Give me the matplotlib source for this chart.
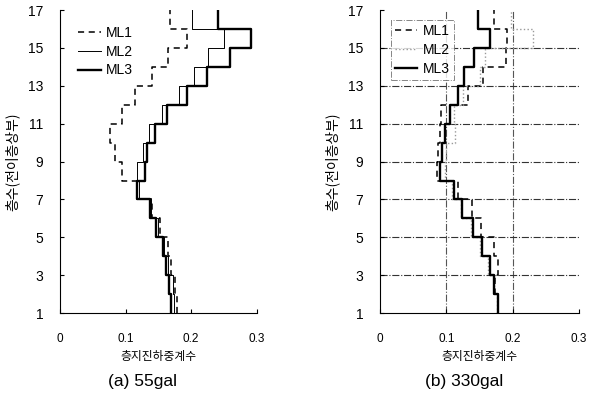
import numpy as np
import matplotlib
matplotlib.use("Agg")
import matplotlib.pyplot as plt

plt.rcParams['font.family'] = ['Liberation Sans', 'Noto Sans CJK KR', 'DejaVu Sans']

# story levels 1..17, values per story (bottom -> top)
levels = np.arange(1, 18)
yticks = [1, 3, 5, 7, 9, 11, 13, 15, 17]
xticks = [0, 0.1, 0.2, 0.3]
xticklabels = ["0", "0.1", "0.2", "0.3"]

a_ml1 = [0.179, 0.175, 0.170, 0.165, 0.152, 0.140, 0.117, 0.095, 0.084, 0.076, 0.094, 0.114, 0.140, 0.165, 0.194, 0.168]
a_ml2 = [0.174, 0.172, 0.165, 0.159, 0.149, 0.139, 0.120, 0.117, 0.127, 0.135, 0.155, 0.182, 0.205, 0.226, 0.250, 0.202]
a_ml3 = [0.170, 0.167, 0.162, 0.157, 0.147, 0.137, 0.117, 0.129, 0.132, 0.145, 0.163, 0.193, 0.224, 0.259, 0.292, 0.241]

b_ml1 = [0.177, 0.173, 0.178, 0.171, 0.152, 0.139, 0.118, 0.086, 0.087, 0.090, 0.092, 0.133, 0.155, 0.190, 0.192, 0.171]
b_ml2 = [0.176, 0.171, 0.163, 0.150, 0.137, 0.122, 0.108, 0.098, 0.100, 0.113, 0.112, 0.125, 0.150, 0.158, 0.230, 0.198]
b_ml3 = [0.177, 0.172, 0.166, 0.153, 0.140, 0.124, 0.111, 0.091, 0.094, 0.098, 0.106, 0.118, 0.127, 0.142, 0.166, 0.148]

ylabel = "층수(전이층상부)"
xlabel = "층지진하중계수"
captions = ["(a) 55gal", "(b) 330gal"]
kfont = ['Noto Sans CJK KR', 'DejaVu Sans']


def story_line(ax, vals, **kw):
    x = np.repeat(vals, 2)
    y = np.repeat(levels, 2)[1:-1]
    return ax.plot(x, y, **kw)[0]


fig = plt.figure(figsize=(5.98, 4.05), dpi=100)
ax1 = fig.add_axes([0.1003, 0.227, 0.329, 0.748])
ax2 = fig.add_axes([0.6355, 0.227, 0.333, 0.748])

# (a)
story_line(ax1, a_ml1, color='black', lw=1.1, ls=(0, (4, 3)), label='ML1')
story_line(ax1, a_ml2, color='black', lw=0.7, label='ML2')
story_line(ax1, a_ml3, color='black', lw=1.7, label='ML3')
ax1.legend(loc='upper left', bbox_to_anchor=(0.03, 0.99), frameon=False,
           fontsize=10, handlelength=1.6, handletextpad=0.4, labelspacing=0.35)

# (b)
for xv in [0.1, 0.2]:
    ax2.axvline(xv, color='#555555', lw=0.8, ls='-.', zorder=0)
for yv in yticks[1:-1]:
    ax2.axhline(yv, color='#333333', lw=0.8, ls='-.', zorder=0)
story_line(ax2, b_ml1, color='black', lw=1.1, ls=(0, (4, 3)), label='ML1')
story_line(ax2, b_ml2, color='#999999', lw=1.0, ls=':', label='ML2')
story_line(ax2, b_ml3, color='black', lw=1.7, label='ML3')
leg = ax2.legend(loc='upper left', bbox_to_anchor=(0.02, 0.99), frameon=True,
                 fontsize=10, handlelength=1.6, handletextpad=0.4, labelspacing=0.35,
                 fancybox=False, borderpad=0.3)
leg.get_frame().set_edgecolor('#666666')
leg.get_frame().set_linestyle('-.')
leg.get_frame().set_linewidth(0.7)

for ax, cap in zip([ax1, ax2], captions):
    ax.set_xlim(0, 0.3)
    ax.set_ylim(1, 17)
    ax.set_yticks(yticks)
    ax.set_xticks(xticks)
    ax.set_xticklabels(xticklabels, fontsize=8.5)
    ax.tick_params(axis='y', labelsize=10, direction='in', length=3, pad=12)
    ax.tick_params(axis='x', direction='in', length=3, pad=14)
    ax.spines['top'].set_visible(False)
    ax.spines['right'].set_visible(False)
    ax.set_ylabel(ylabel, family=kfont, fontsize=10, labelpad=6)
    ax.set_xlabel(xlabel, family=kfont, fontsize=8.5, labelpad=4)
    ax.text(0.42, -0.225, cap, transform=ax.transAxes, ha='center', va='center',
            fontsize=12.5)

fig.savefig("out.png", dpi=100)
